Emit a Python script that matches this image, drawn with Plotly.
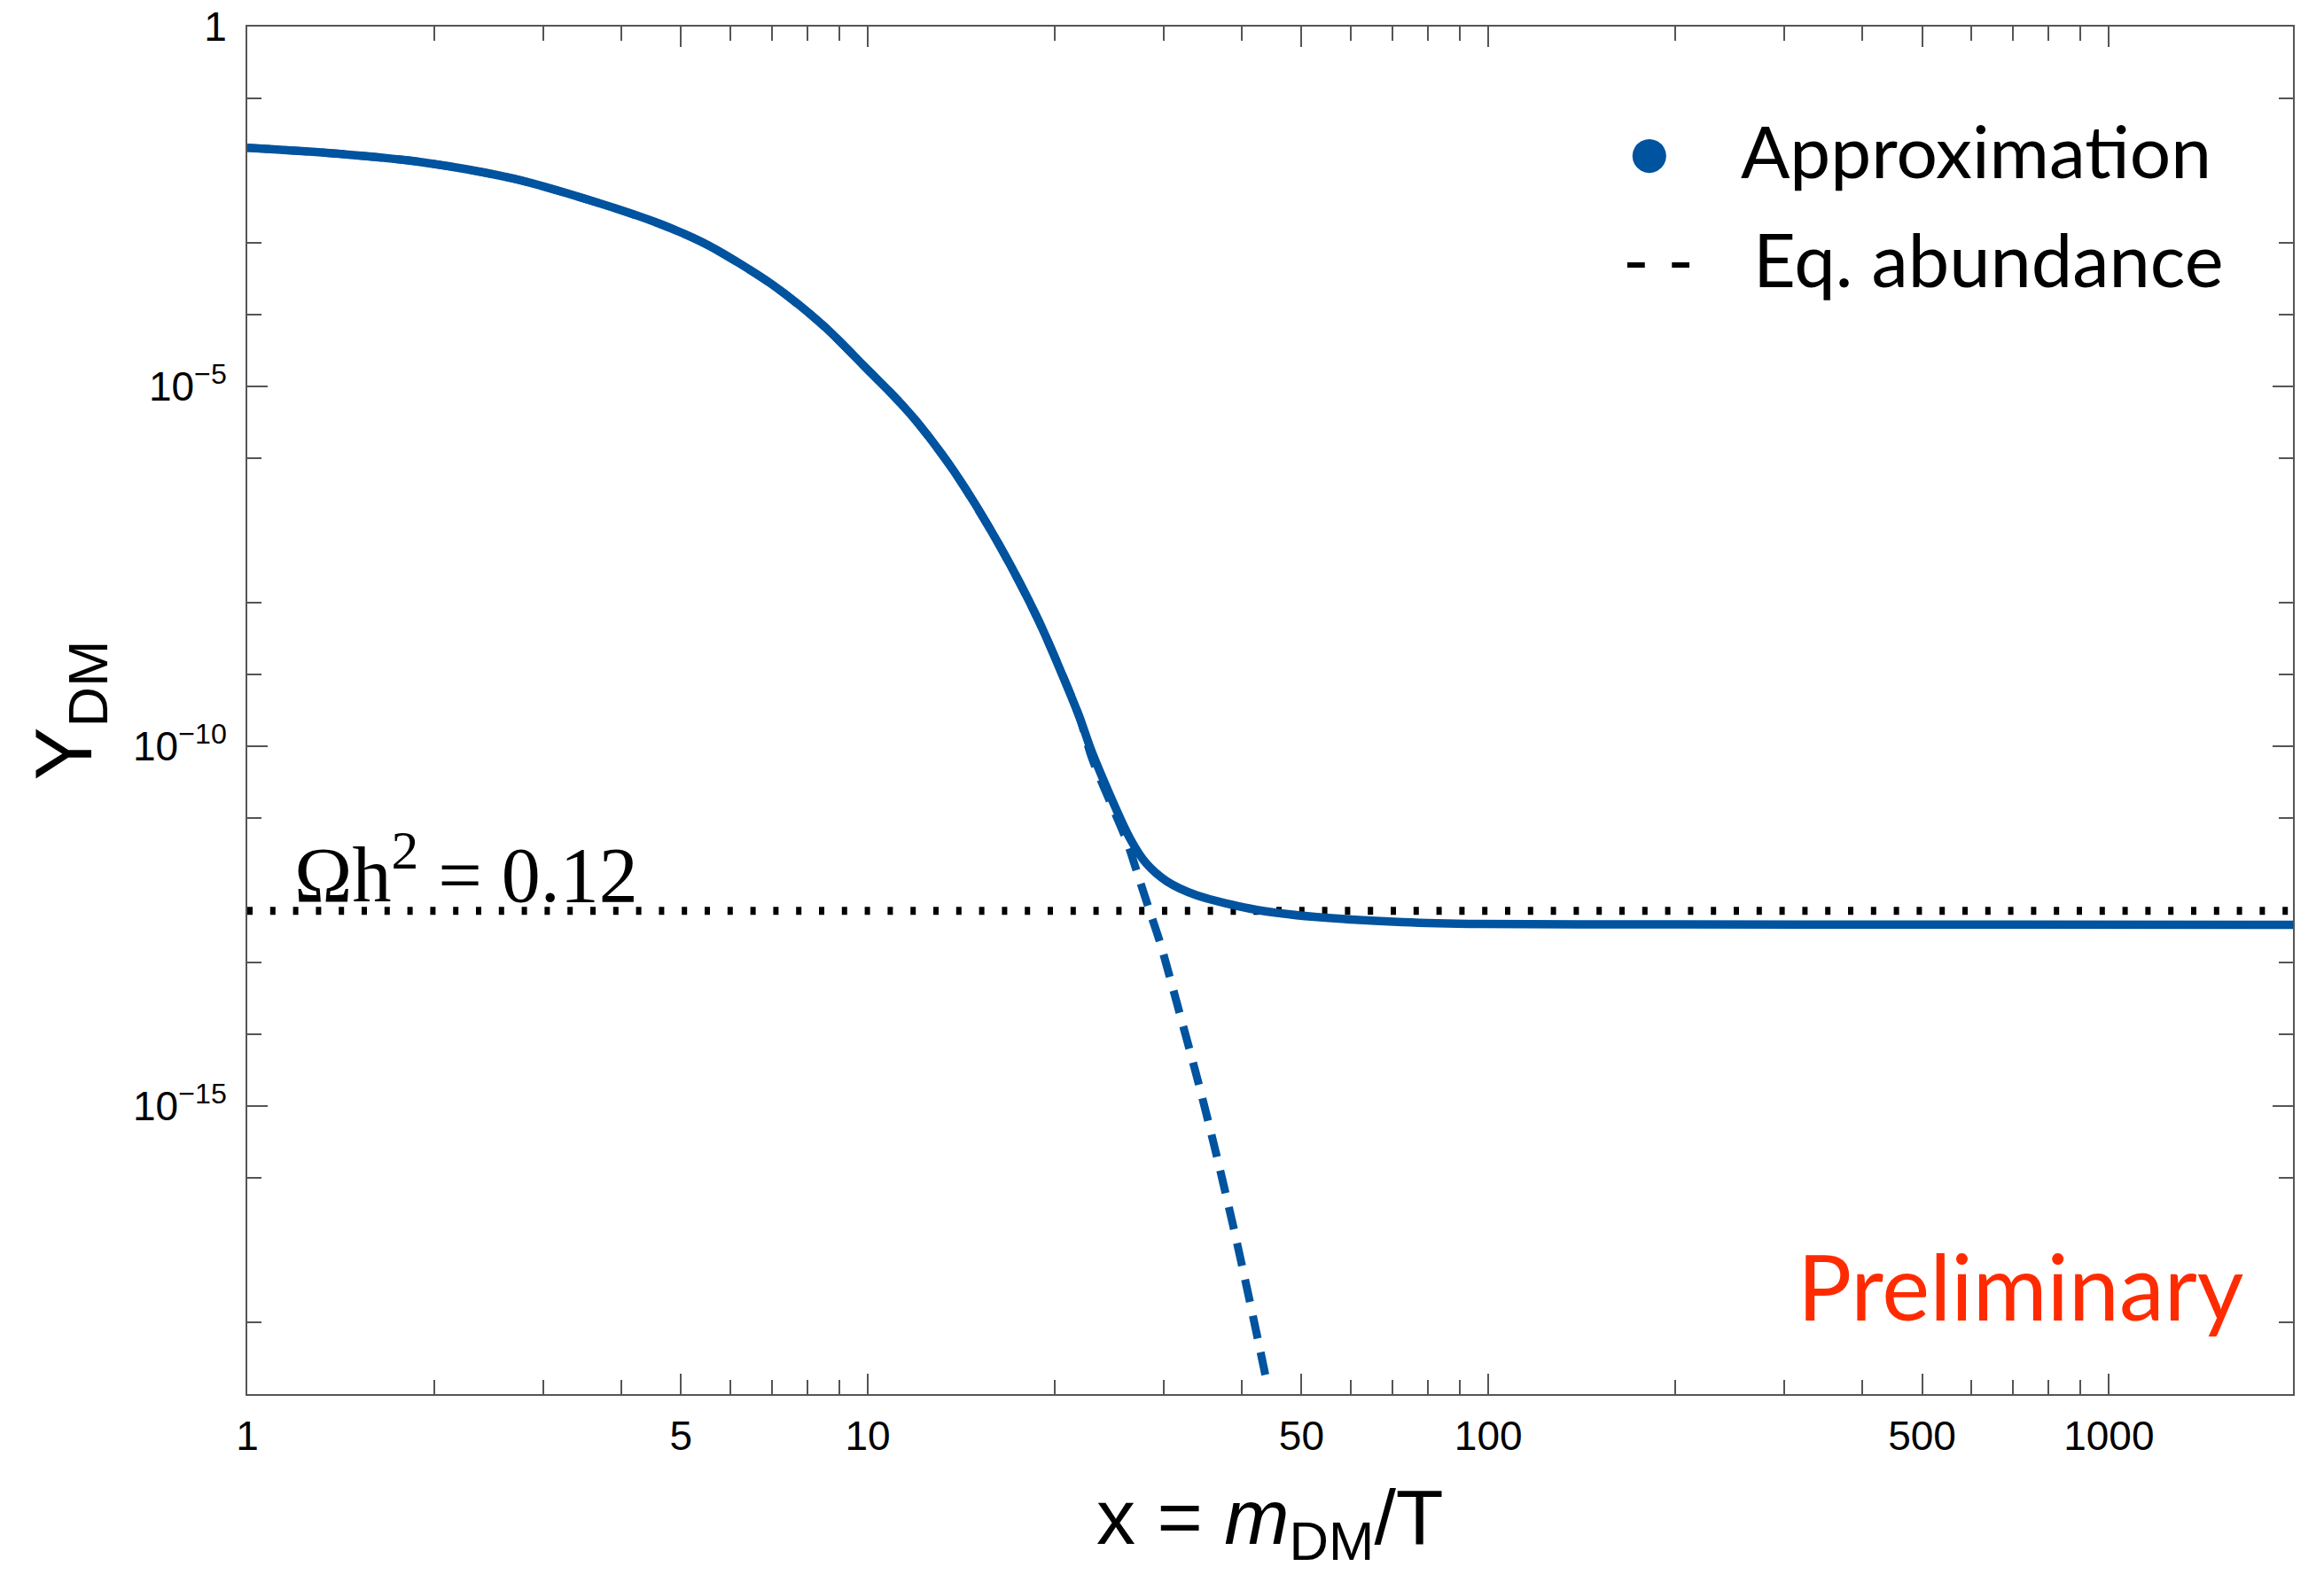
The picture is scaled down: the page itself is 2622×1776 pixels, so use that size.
import math
import plotly.graph_objects as go

# ---------------- data ----------------
# Approximation (solid blue curve)
x_approx = [1.0, 1.39, 1.93, 2.69, 3.72, 4.65, 5.53, 7.0, 8.5, 10.02, 11.0,
            11.97, 13.78, 16.27, 18.84, 21.88, 23.01, 26.45, 28.1, 30.3, 33.9,
            42.2, 52.5, 72.9, 97.1, 200, 1980]
y_approx = [2.07e-2, 1.72e-2, 1.29e-2, 7.69e-3, 3.44e-3, 1.78e-3, 9.16e-4,
            2.63e-4, 6.87e-5, 1.67e-5, 7.45e-6, 3.31e-6, 6.55e-7, 6.37e-8,
            5.61e-9, 2.69e-10, 7.98e-11, 5.25e-12, 2.36e-12, 1.34e-12,
            8.51e-13, 5.37e-13, 4.27e-13, 3.61e-13, 3.40e-13, 3.35e-13, 3.31e-13]

# Equilibrium abundance (dashed blue curve)
x_eq = [1.0, 1.39, 1.93, 2.69, 3.72, 4.65, 5.53, 7.0, 8.5, 10.02, 11.0,
        11.97, 13.78, 16.27, 18.84, 21.88, 23.01, 26.17, 27.04, 28.41, 29.61,
        31.8, 34.15, 36.48, 38.82, 41.15, 43.8]
y_eq = [2.07e-2, 1.72e-2, 1.29e-2, 7.69e-3, 3.44e-3, 1.78e-3, 9.16e-4,
        2.63e-4, 6.87e-5, 1.67e-5, 7.45e-6, 3.31e-6, 6.55e-7, 6.37e-8,
        5.61e-9, 2.69e-10, 6.6e-11, 4.68e-12, 2.0e-12, 5.37e-13, 1.82e-13,
        1.97e-14, 2.02e-15, 2.07e-16, 2.12e-17, 2.17e-18, 1.7e-19]

# Omega h^2 = 0.12 reference level
omega_x = [1.0, 1980]
omega_y = [5.16e-13, 5.16e-13]

# axis ranges and ticks
x_min, x_max = 1.0, 1980
y_min_exp, y_max_exp = -19, 0
x_major = [1, 5, 10, 50, 100, 500, 1000]
x_major_text = ["1", "5", "10", "50", "100", "500", "1000"]
x_minor = [2, 3, 4, 6, 7, 8, 9, 20, 30, 40, 60, 70, 80, 90,
           200, 300, 400, 600, 700, 800, 900]
y_major = [1, 1e-5, 1e-10, 1e-15]
y_major_text = ["1", "10<sup>\u22125</sup>", "10<sup>\u221210</sup>", "10<sup>\u221215</sup>"]
y_minor = [1e-1, 1e-3, 1e-4, 1e-6, 1e-8, 1e-9, 1e-11, 1e-13, 1e-14, 1e-16, 1e-18]

legend_labels = ["Approximation", "Eq. abundance"]
x_title = "x = <i>m</i><sub>DM</sub>/T"
y_title = "Y<sub>DM</sub>"

# ---------------- styling ----------------
BLUE = "#00539F"
RED = "#FF2B00"
AXC = "#555555"
W, H = 2622, 1776
L, R, T, B = 279, 35, 30, 203
PW, PH = W - L - R, H - T - B


def px(xp):
    return (xp - L) / PW


def py(yp):
    return (H - B - yp) / PH


fig = go.Figure()

fig.add_trace(go.Scatter(
    x=omega_x, y=omega_y, mode="lines",
    line=dict(color="black", width=9, dash="6px,19.8px"),
    showlegend=False, hoverinfo="skip"))

fig.add_trace(go.Scatter(
    x=x_eq, y=y_eq, mode="lines", name=legend_labels[1],
    line=dict(color=BLUE, width=9, dash="26px,16px", shape="spline", smoothing=0.8),
    showlegend=False))

fig.add_trace(go.Scatter(
    x=x_approx, y=y_approx, mode="lines", name=legend_labels[0],
    line=dict(color=BLUE, width=9.5, shape="spline", smoothing=0.8),
    showlegend=False))

tickfont = dict(family="Liberation Sans, Arial, sans-serif", size=46, color="black")

fig.update_xaxes(
    type="log", range=[math.log10(x_min), math.log10(x_max)],
    tickmode="array", tickvals=x_major, ticktext=x_major_text,
    ticks="inside", ticklen=23, tickwidth=2, tickcolor=AXC,
    showline=True, linecolor=AXC, linewidth=2, mirror="allticks",
    showgrid=False, zeroline=False, tickfont=tickfont, ticklabelstandoff=6,
    minor=dict(tickvals=x_minor, ticks="inside", ticklen=16, tickwidth=2,
               tickcolor=AXC, showgrid=False),
)

fig.update_yaxes(
    type="log", range=[y_min_exp, y_max_exp],
    tickmode="array", tickvals=y_major, ticktext=y_major_text,
    ticks="inside", ticklen=23, tickwidth=2, tickcolor=AXC,
    showline=True, linecolor=AXC, linewidth=2, mirror="allticks",
    showgrid=False, zeroline=False, tickfont=tickfont, ticklabelstandoff=12,
    minor=dict(tickvals=y_minor, ticks="inside", ticklen=16, tickwidth=2,
               tickcolor=AXC, showgrid=False),
    title=dict(text=y_title,
               font=dict(family="Liberation Sans, Arial, sans-serif", size=90, color="black"),
               standoff=17),
)

annotations = [
    # x axis title, kept just inside the bottom edge
    dict(text=x_title, x=0.5, y=py(1775), xanchor="center", yanchor="bottom",
         font=dict(family="Liberation Sans, Arial, sans-serif", size=88, color="black")),
    # legend
    dict(text="\u25CF", x=px(1861), y=py(172), xanchor="center", yanchor="middle",
         font=dict(family="DejaVu Sans", size=50, color=BLUE)),
    dict(text=legend_labels[0], x=px(1962), y=py(169), xanchor="left", yanchor="middle",
         font=dict(family="Lato", size=82, color="black")),
    dict(text="- -", x=px(1871), y=py(292), xanchor="center", yanchor="middle",
         font=dict(family="Lato", size=80, color="black")),
    dict(text=legend_labels[1], x=px(1976), y=py(292), xanchor="left", yanchor="middle",
         font=dict(family="Lato", size=83, color="black")),
    # Omega h^2 label
    dict(text="\u03A9h<sup>2</sup> = 0.12", x=px(330), y=py(980), xanchor="left", yanchor="middle",
         font=dict(family="Liberation Serif, Times New Roman, serif", size=88, color="black")),
    # Preliminary
    dict(text="Preliminary", x=px(2026), y=py(1450), xanchor="left", yanchor="middle",
         font=dict(family="Lato", size=102, color=RED)),
]
for a in annotations:
    a.update(xref="paper", yref="paper", showarrow=False)

fig.update_layout(
    width=W, height=H,
    margin=dict(l=L, r=R, t=T, b=B, autoexpand=False),
    paper_bgcolor="white", plot_bgcolor="white",
    showlegend=False,
    annotations=annotations,
)

fig.write_html("out.html")
